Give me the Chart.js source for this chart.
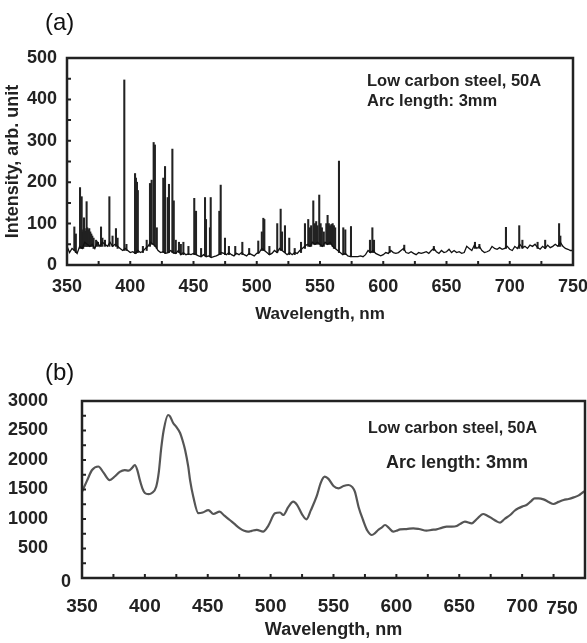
<!DOCTYPE html>
<html>
<head>
<meta charset="utf-8">
<script src="https://cdn.jsdelivr.net/npm/chart.js@4.4.1/dist/chart.umd.min.js"></script>
<style>
  html, body { margin: 0; padding: 0; background: #fff; overflow: hidden; }
  #wrap { position: relative; width: 587px; height: 643px; font-family: "Liberation Sans", Arial, sans-serif; }
  #boxA { position: absolute; left: 0; top: 0; }
  #boxB { position: absolute; left: 0; top: 330px; }
  .txt { position: absolute; color: #222; white-space: nowrap; line-height: 1; font-weight: bold; }
  .tag { position: absolute; color: #111; line-height: 1; font-size: 24px; }
</style>
</head>
<body>
<div id="wrap">
  <canvas id="boxA" width="587" height="330"></canvas>
  <canvas id="boxB" width="587" height="313"></canvas>

  <div class="tag" style="left:45px; top:10px;">(a)</div>
  <div class="txt" style="left:367px; top:72px; font-size:16.5px;">Low carbon steel, 50A</div>
  <div class="txt" style="left:367px; top:92px; font-size:16.5px;">Arc length: 3mm</div>

  <div class="tag" style="left:45px; top:360px;">(b)</div>
  <div class="txt" style="left:368px; top:420px; font-size:16px;">Low carbon steel, 50A</div>
  <div class="txt" style="left:386px; top:453px; font-size:18px;">Arc length: 3mm</div>
</div>

<script>
// ---- (a) emission spectrum ----
// continuum under the lines: [wavelength nm, intensity]
var baselineA = [
  [350,45],[352,30],[354,40],[356,35],[358,28],[360,45],[362,40],[364,55],[366,50],[368,45],
  [370,50],[372,40],[374,55],[376,45],[378,55],[380,50],[382,45],[384,55],[386,45],[388,50],
  [390,45],[392,40],[394,35],[396,40],[398,35],[400,30],[402,32],[404,28],[406,35],[408,30],
  [410,33],[412,40],[414,45],[416,55],[418,50],[420,45],[422,35],[424,30],[426,32],[428,28],
  [430,30],[432,35],[434,30],[436,28],[438,35],[440,25],[442,30],[444,25],[446,27],[448,25],
  [450,28],[452,25],[454,22],[456,20],[458,25],[460,20],[462,22],[464,18],[466,20],[468,22],
  [470,25],[472,30],[474,28],[476,25],[478,30],[480,25],[482,22],[484,28],[486,25],[488,30],
  [490,25],[492,22],[494,28],[496,25],[498,22],[500,28],[502,30],[504,40],[506,35],[508,30],
  [510,25],[512,28],[514,35],[516,30],[518,40],[520,35],[522,30],[524,25],[526,30],[528,25],
  [530,30],[532,28],[534,35],[536,40],[538,45],[540,50],[542,45],[544,55],[546,50],[548,55],
  [550,50],[552,45],[554,55],[556,50],[558,55],[560,45],[562,40],[564,35],[566,30],[568,25],
  [570,28],[572,22],[574,20],[576,20],[578,20],[580,20],[582,22],[584,20],[586,25],[588,35],
  [590,30],[592,35],[594,28],[596,25],[598,22],[600,25],[602,30],[604,28],[606,35],[608,30],
  [610,28],[612,30],[614,35],[616,40],[618,30],[620,28],[622,32],[624,28],[626,25],[628,30],
  [630,28],[632,30],[634,32],[636,28],[638,35],[640,40],[642,32],[644,28],[646,35],[648,30],
  [650,32],[652,38],[654,30],[656,35],[658,30],[660,32],[662,28],[664,30],[666,45],[668,40],
  [670,35],[672,48],[674,40],[676,45],[678,35],[680,30],[682,32],[684,35],[686,45],[688,40],
  [690,38],[692,42],[694,38],[696,40],[698,45],[700,38],[702,35],[704,45],[706,40],[708,50],
  [710,42],[712,45],[714,40],[716,48],[718,45],[720,50],[722,42],[724,38],[726,45],[728,40],
  [730,48],[732,42],[734,45],[736,50],[738,45],[740,55],[742,45],[744,40],[746,38],[748,35],
  [750,35]
];

// emission lines: [wavelength nm, foot, top]
var linesA = [
  [355.8,35,92],[357,30,75],[360.3,40,187],[361.6,40,165],[362,40,80],[362.8,40,85],[363.4,45,114],
  [364,45,88],[364.8,45,82],[365.5,45,153],[366,45,90],[366.8,45,85],[367.6,45,88],[368.4,45,80],
  [369.2,45,75],[370,45,70],[371,40,65],[373,45,60],[374.5,45,55],[376.9,45,92],[378,45,65],
  [380,45,60],[383.5,45,165],[386,45,70],[388.7,45,88],[390,40,65],[395.3,35,447],[397,35,50],
  [403.8,28,221],[404.5,28,210],[405.3,30,200],[406,30,180],[410,30,45],[413,35,60],
  [415.6,45,197],[416.9,50,205],[418.5,50,296],[419.5,45,290],[421,40,90],[426.1,30,210],
  [427.5,28,238],[429.6,30,163],[430.6,30,195],[433.3,30,280],[434.4,28,155],[436,28,60],
  [438.5,30,55],[440,25,50],[442,25,55],[446,25,45],[450.6,25,161],[452,25,130],[456,20,40],
  [459.1,22,163],[459.9,22,110],[463,20,90],[463.6,20,163],[470.4,25,130],[471.5,25,193],
  [474.9,25,65],[478,25,45],[483,25,45],[488.6,25,55],[494,25,40],[501.2,28,58],[504,35,80],
  [505.2,35,113],[506,35,110],[510,25,45],[516.2,30,100],[518.9,35,135],[520,35,80],
  [522.3,30,95],[525.7,25,65],[530,25,40],[535,30,55],[538.1,40,100],[540.7,45,110],
  [542,45,90],[543,45,95],[544.7,50,155],[546,50,100],[547,50,105],[548,50,95],[549.4,50,169],
  [550.5,45,100],[551.5,45,90],[553,45,80],[555,50,100],[556,50,120],[557,50,100],[558,50,95],
  [559,50,98],[560,45,100],[561,40,95],[562,40,90],[565,30,251],[568.4,25,90],[570,25,85],
  [574.5,20,93],[589.5,30,60],[591.4,30,90],[592.7,30,60],[605,30,45],[616.6,35,48],
  [640,35,45],[672.5,40,55],[676,40,50],[697,40,91],[707.5,40,95],[710,40,60],[722,40,55],
  [728,40,60],[739,45,100],[740,45,70]
];

var xLabelsA = [350, 400, 450, 500, 550, 600, 650, 700, 750];
var yLabelsA = [0, 100, 200, 300, 400, 500];

// ---- (b) broadband spectrum ----
var wlB = [
  350,354,358,363,367,372,376,380,384,387,390,392,394,396,398,400,403,405.5,409,411,
  413,415,418.5,420,422.5,425,428,430,432,434.5,436,438.5,442.5,446,450.5,454.5,459.5,463,467.5,471,
  475.5,479,482,485,489,494,498,503.5,507.5,510,514,518,521,525,528.5,532,536.5,540,543,546,
  550,554,558,562,565,567,570,573.5,577,580.5,583,585.5,588,591,594,597.5,600,603,608,613.5,
  618,624,628,632,636,640,644,648,651,654.5,660,664,669,672,676,679,682.5,686,690.5,694,
  697,700,703.5,707,710,713,717,721,725,729,733,737,741,745,749,750
];
var intB = [
  1463,1650,1830,1890,1790,1660,1720,1800,1830,1820,1870,1915,1830,1660,1520,1440,1420,1440,1547,1780,
  2200,2508,2763,2740,2627,2560,2458,2330,2170,1887,1650,1378,1100,1110,1150,1085,1124,1060,983,920,
  842,800,785,800,814,785,880,1096,1110,1068,1200,1293,1240,1080,995,1150,1378,1620,1717,1680,
  1560,1520,1560,1576,1540,1463,1200,983,800,729,760,814,850,898,850,785,800,825,830,842,
  830,802,815,825,850,870,870,881,920,955,927,1000,1085,1060,1011,970,938,1000,1068,1140,
  1181,1210,1237,1300,1350,1350,1333,1290,1254,1290,1322,1340,1367,1400,1463,1470
];

var xLabelsB = [350, 400, 450, 500, 550, 600, 650, 700];
var yLabelsB = [500, 1000, 1500, 2000, 2500, 3000];

// box around the plot, inward tick marks, and the odd labels the original put off-grid
var frame = {
  id: 'frame',
  afterDraw: function (chart, args, o) {
    var ctx = chart.ctx, a = chart.chartArea;
    var sx = chart.scales.x, sy = chart.scales.y;
    ctx.save();
    ctx.strokeStyle = '#222';
    ctx.lineWidth = o.tickWidth;
    ctx.beginPath();
    sx.ticks.forEach(function (t) {
      var p = sx.getPixelForValue(t.value);
      ctx.moveTo(p, a.bottom);
      ctx.lineTo(p, a.bottom - o.tick);
    });
    sy.ticks.forEach(function (t) {
      var p = sy.getPixelForValue(t.value);
      ctx.moveTo(a.left, p);
      ctx.lineTo(a.left + o.tick, p);
    });
    ctx.stroke();
    ctx.lineWidth = o.width;
    ctx.strokeRect(a.left, a.top, a.right - a.left, a.bottom - a.top);

    ctx.fillStyle = '#222';
    ctx.textAlign = 'center';
    ctx.textBaseline = 'middle';
    (o.extra || []).forEach(function (e) {
      ctx.font = e.font;
      var x, y;
      if (e.axis === 'x') {
        x = sx.getPixelForValue(e.value) + e.dx;
        y = a.bottom + e.dy;
      } else {
        x = a.left + e.dx;
        y = sy.getPixelForValue(e.value) + e.dy;
      }
      ctx.fillText(e.text, x, y);
    });
    ctx.restore();
  }
};

// keep the plot box where the original has it: no extra room for end labels
function fixX(h) {
  return function (s) { s.height = h; s.paddingLeft = 0; s.paddingRight = 0; };
}

var boldFont = '"Liberation Sans", Arial, sans-serif';

new Chart(document.getElementById('boxA'), {
  type: 'bar',
  data: {
    datasets: [{
      type: 'line',
      data: baselineA.map(function (p) { return { x: p[0], y: p[1] }; }),
      borderColor: '#111',
      borderWidth: 1.3,
      pointRadius: 0,
      tension: 0
    }, {
      type: 'bar',
      data: linesA.map(function (l) { return { x: l[0], y: [l[1], l[2]] }; }),
      backgroundColor: '#222',
      barThickness: 1.4,
      grouped: false
    }]
  },
  options: {
    responsive: false,
    animation: false,
    devicePixelRatio: 1,
    layout: { padding: { top: 58, right: 14, left: 0, bottom: 0 } },
    plugins: {
      legend: { display: false },
      tooltip: { enabled: false },
      frame: { tick: 4, tickWidth: 2, width: 2.5 }
    },
    scales: {
      x: {
        type: 'linear',
        min: 350,
        max: 750,
        offset: false,
        grid: { display: false, drawTicks: false },
        border: { display: false },
        ticks: {
          stepSize: 25,
          autoSkip: false,
          maxRotation: 0,
          padding: 11,
          color: '#222',
          font: { family: boldFont, size: 18, weight: 'bold' },
          callback: function (v) { return xLabelsA.indexOf(v) >= 0 ? String(v) : ''; }
        },
        title: {
          display: true,
          text: 'Wavelength, nm',
          color: '#222',
          font: { family: boldFont, size: 17, weight: 'bold', lineHeight: 1.2 },
          padding: { top: 0, bottom: 5 }
        },
        afterFit: fixX(65)
      },
      y: {
        min: 0,
        max: 500,
        grid: { display: false, drawTicks: false },
        border: { display: false },
        ticks: {
          stepSize: 50,
          autoSkip: false,
          padding: 10,
          color: '#222',
          font: { family: boldFont, size: 18, weight: 'bold' },
          callback: function (v) { return yLabelsA.indexOf(v) >= 0 ? String(v) : ''; }
        },
        title: {
          display: true,
          text: 'Intensity, arb. unit',
          color: '#222',
          font: { family: boldFont, size: 18, weight: 'bold', lineHeight: 1.2 },
          padding: { top: 2, bottom: 0 }
        },
        afterFit: function (s) { s.width = 67; }
      }
    }
  },
  plugins: [frame]
});

new Chart(document.getElementById('boxB'), {
  type: 'line',
  data: {
    datasets: [{
      data: wlB.map(function (w, i) { return { x: w, y: intB[i] }; }),
      borderColor: '#555',
      borderWidth: 2.2,
      pointRadius: 0,
      cubicInterpolationMode: 'monotone'
    }]
  },
  options: {
    responsive: false,
    animation: false,
    devicePixelRatio: 1,
    layout: { padding: { top: 71, right: 2, left: 0, bottom: 0 } },
    plugins: {
      legend: { display: false },
      tooltip: { enabled: false },
      frame: {
        tick: 4, tickWidth: 2, width: 2.5,
        extra: [
          { text: '750', axis: 'x', value: 750, dx: -23, dy: 31, font: 'bold 19px ' + boldFont },
          { text: '0', axis: 'y', value: 0, dx: -16, dy: 4, font: 'bold 18px ' + boldFont }
        ]
      }
    },
    scales: {
      x: {
        type: 'linear',
        min: 350,
        max: 750,
        grid: { display: false, drawTicks: false },
        border: { display: false },
        ticks: {
          stepSize: 25,
          autoSkip: false,
          maxRotation: 0,
          padding: 17,
          color: '#222',
          font: { family: boldFont, size: 19, weight: 'bold' },
          callback: function (v) { return xLabelsB.indexOf(v) >= 0 ? String(v) : ''; }
        },
        title: {
          display: true,
          text: 'Wavelength, nm',
          color: '#222',
          font: { family: boldFont, size: 18, weight: 'bold', lineHeight: 1.2 },
          padding: { top: 0, bottom: 2 }
        },
        afterFit: fixX(65)
      },
      y: {
        min: 0,
        max: 3000,
        grid: { display: false, drawTicks: false },
        border: { display: false },
        ticks: {
          stepSize: 250,
          autoSkip: false,
          padding: 34,
          color: '#222',
          font: { family: boldFont, size: 18, weight: 'bold' },
          callback: function (v) { return yLabelsB.indexOf(v) >= 0 ? String(v) : ''; }
        },
        afterFit: function (s) { s.width = 82; }
      }
    }
  },
  plugins: [frame]
});
</script>
</body>
</html>
